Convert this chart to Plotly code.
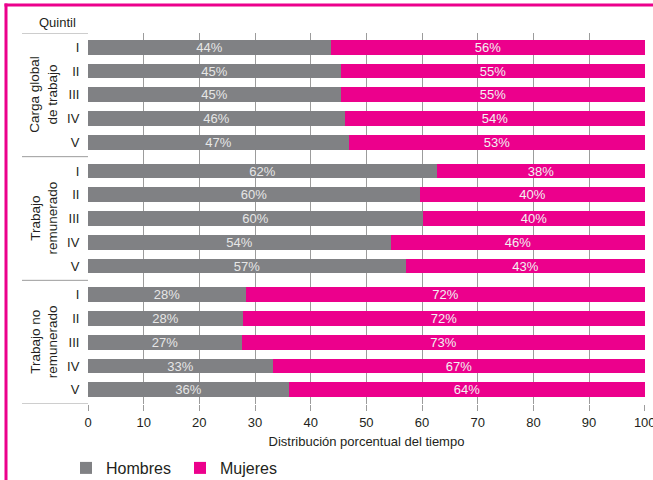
import plotly.graph_objects as go

# ---- data ----
groups = ["Carga global<br>de trabajo", "Trabajo<br>remunerado", "Trabajo no<br>remunerado"]
quintiles = ["I", "II", "III", "IV", "V"]
hombres = [43.6, 45.5, 45.5, 46.2, 46.8,
           62.6, 59.7, 60.1, 54.5, 57.2,
           28.3, 27.9, 27.6, 33.3, 36.1]
mujeres = [56.4, 54.5, 54.5, 53.8, 53.2,
           37.4, 40.3, 39.9, 45.5, 42.8,
           71.7, 72.1, 72.4, 66.7, 63.9]
hombres_lbl = ["44%", "45%", "45%", "46%", "47%",
               "62%", "60%", "60%", "54%", "57%",
               "28%", "28%", "27%", "33%", "36%"]
mujeres_lbl = ["56%", "55%", "55%", "54%", "53%",
               "38%", "40%", "40%", "46%", "43%",
               "72%", "72%", "73%", "67%", "64%"]
x_ticks = [0, 10, 20, 30, 40, 50, 60, 70, 80, 90, 100]

GRAY = "#808184"
PINK = "#EC008C"
FONT = "Liberation Sans"
TXT = "#231F20"

PITCH = 5.2  # group pitch in row units
ypos = []
for g in range(len(groups)):
    for r in range(len(quintiles)):
        ypos.append(g * PITCH + r)
ticktext = quintiles * len(groups)

fig = go.Figure()
fig.add_trace(go.Bar(
    y=ypos, x=hombres, orientation="h", name="Hombres",
    marker=dict(color=GRAY, line=dict(width=0)), width=0.62,
    text=hombres_lbl, textposition="inside", insidetextanchor="middle",
    textangle=0, constraintext="none",
    textfont=dict(color="#E6E6E6", size=13, family=FONT),
    hoverinfo="skip"))
fig.add_trace(go.Bar(
    y=ypos, x=mujeres, orientation="h", name="Mujeres",
    marker=dict(color=PINK, line=dict(width=0)), width=0.62,
    text=mujeres_lbl, textposition="inside", insidetextanchor="middle",
    textangle=0, constraintext="none",
    textfont=dict(color="#F2F2F2", size=13, family=FONT),
    hoverinfo="skip"))

W, H = 653, 480
ML, MR, MT, MB = 88, 8, 33, 76
pw = W - ML - MR
ph = H - MT - MB

def px_x(p):
    return (p - ML) / pw

def px_y(p):
    return (H - MB - p) / ph

shapes = []
# group separators in label column
ytop = -0.6
sep_ys = [ytop] + [g * PITCH + 4.6 for g in range(len(groups))]
for yy in sep_ys:
    shapes.append(dict(type="line", xref="paper", yref="y",
                       x0=px_x(22), x1=0, y0=yy, y1=yy,
                       line=dict(color="#9C9C9C", width=1)))
# pink frame
shapes.append(dict(type="line", xref="paper", yref="paper",
                   x0=px_x(6), x1=px_x(6), y0=px_y(H + 5), y1=px_y(3.5),
                   line=dict(color=PINK, width=3)))
shapes.append(dict(type="line", xref="paper", yref="paper",
                   x0=px_x(4.5), x1=px_x(W + 5), y0=px_y(5), y1=px_y(5),
                   line=dict(color=PINK, width=3)))

annotations = []
for g, name in enumerate(groups):
    annotations.append(dict(
        xref="paper", yref="y", x=px_x(44), y=g * PITCH + 2,
        text=name, textangle=-90, showarrow=False, align="center",
        xanchor="center", yanchor="middle",
        font=dict(size=13.5, family=FONT, color=TXT)))
annotations.append(dict(
    xref="paper", yref="paper", x=px_x(57), y=px_y(23),
    text="Quintil", showarrow=False, xanchor="center", yanchor="middle",
    font=dict(size=13, family=FONT, color=TXT)))

fig.update_layout(
    width=W, height=H,
    margin=dict(l=ML, r=MR, t=MT, b=MB, autoexpand=False),
    barmode="stack", bargap=0,
    plot_bgcolor="white", paper_bgcolor="white",
    font=dict(family=FONT, size=13, color=TXT),
    showlegend=True,
    legend=dict(orientation="h", x=px_x(66), xanchor="left",
                y=px_y(468), yanchor="middle",
                font=dict(size=16, family=FONT, color=TXT),
                entrywidth=69, traceorder="normal"),
    shapes=shapes, annotations=annotations,
    xaxis=dict(range=[0, 100.05], tickvals=x_ticks, showgrid=True,
               gridcolor="#9C9C9C", gridwidth=1, zeroline=False,
               showline=False, ticks="outside", ticklen=6,
               tickcolor="#9C9C9C", ticklabeloverflow="allow",
               tickfont=dict(size=13, family=FONT, color=TXT),
               title=dict(text="Distribución porcentual del tiempo",
                          font=dict(size=13, family=FONT, color=TXT),
                          standoff=8),
               fixedrange=True),
    yaxis=dict(range=[sep_ys[-1], ytop], tickvals=ypos, ticktext=ticktext,
               showgrid=False, zeroline=False, showline=False,
               ticks="outside", ticklen=5, tickcolor="rgba(0,0,0,0)",
               tickfont=dict(size=13, family=FONT, color=TXT),
               fixedrange=True),
)

fig.write_html("out.html")
